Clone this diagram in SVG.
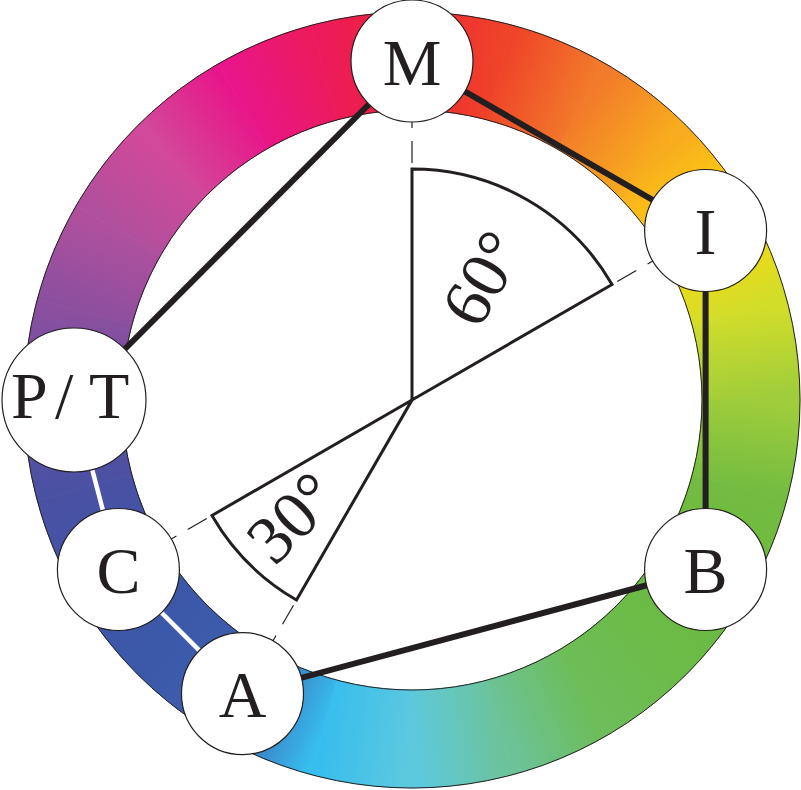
<svg xmlns="http://www.w3.org/2000/svg" width="801" height="790" viewBox="0 0 801 790">
<style>
.ring path{stroke-width:0.8}
.edge{fill:none;stroke:#231f20;stroke-width:1}
.guide{fill:none;stroke:#231f20;stroke-width:1.2;stroke-dasharray:22 13;stroke-dashoffset:8}
.wedge{fill:#fff;stroke:#231f20;stroke-width:3;stroke-linejoin:miter}
.thick{stroke:#231f20;stroke-width:6}
.white{stroke:#fff;stroke-width:4.5}
.node circle{fill:#fff;stroke:#231f20;stroke-width:1.2}
.lbl{font-family:"Liberation Serif","Times New Roman",serif;font-size:66px;fill:#231f20;text-anchor:middle}
.ang{font-family:"Liberation Serif","Times New Roman",serif;font-size:68px;fill:#231f20}
</style>
<defs>
<linearGradient id="g0" gradientUnits="userSpaceOnUse" x1="751" y1="400" x2="739.45" y2="312.26"><stop offset="0" stop-color="#9fcd3b"/><stop offset="1" stop-color="#d2dd2a"/></linearGradient>
<linearGradient id="g1" gradientUnits="userSpaceOnUse" x1="739.45" y1="312.26" x2="705.58" y2="230.5"><stop offset="0" stop-color="#d2dd2a"/><stop offset="1" stop-color="#fed80d"/></linearGradient>
<linearGradient id="g2" gradientUnits="userSpaceOnUse" x1="705.58" y1="230.5" x2="651.71" y2="160.29"><stop offset="0" stop-color="#fed80d"/><stop offset="1" stop-color="#f8ac1e"/></linearGradient>
<linearGradient id="g3" gradientUnits="userSpaceOnUse" x1="651.71" y1="160.29" x2="581.5" y2="106.42"><stop offset="0" stop-color="#f8ac1e"/><stop offset="1" stop-color="#f27a2a"/></linearGradient>
<linearGradient id="g4" gradientUnits="userSpaceOnUse" x1="581.5" y1="106.42" x2="499.74" y2="72.55"><stop offset="0" stop-color="#f27a2a"/><stop offset="1" stop-color="#ef4429"/></linearGradient>
<linearGradient id="g5" gradientUnits="userSpaceOnUse" x1="499.74" y1="72.55" x2="412" y2="61"><stop offset="0" stop-color="#ef4429"/><stop offset="1" stop-color="#ee2535"/></linearGradient>
<linearGradient id="g6" gradientUnits="userSpaceOnUse" x1="412" y1="61" x2="324.26" y2="72.55"><stop offset="0" stop-color="#ee2535"/><stop offset="1" stop-color="#ec1a5c"/></linearGradient>
<linearGradient id="g7" gradientUnits="userSpaceOnUse" x1="324.26" y1="72.55" x2="242.5" y2="106.42"><stop offset="0" stop-color="#ec1a5c"/><stop offset="1" stop-color="#e8168a"/></linearGradient>
<linearGradient id="g8" gradientUnits="userSpaceOnUse" x1="242.5" y1="106.42" x2="172.29" y2="160.29"><stop offset="0" stop-color="#e8168a"/><stop offset="1" stop-color="#d2489a"/></linearGradient>
<linearGradient id="g9" gradientUnits="userSpaceOnUse" x1="172.29" y1="160.29" x2="118.42" y2="230.5"><stop offset="0" stop-color="#d2489a"/><stop offset="1" stop-color="#b0509d"/></linearGradient>
<linearGradient id="g10" gradientUnits="userSpaceOnUse" x1="118.42" y1="230.5" x2="84.55" y2="312.26"><stop offset="0" stop-color="#b0509d"/><stop offset="1" stop-color="#8c4f9f"/></linearGradient>
<linearGradient id="g11" gradientUnits="userSpaceOnUse" x1="84.55" y1="312.26" x2="73" y2="400"><stop offset="0" stop-color="#8c4f9f"/><stop offset="1" stop-color="#654fa0"/></linearGradient>
<linearGradient id="g12" gradientUnits="userSpaceOnUse" x1="73" y1="400" x2="84.55" y2="487.74"><stop offset="0" stop-color="#654fa0"/><stop offset="1" stop-color="#4a51a3"/></linearGradient>
<linearGradient id="g13" gradientUnits="userSpaceOnUse" x1="84.55" y1="487.74" x2="118.42" y2="569.5"><stop offset="0" stop-color="#4a51a3"/><stop offset="1" stop-color="#3f55a6"/></linearGradient>
<linearGradient id="g14" gradientUnits="userSpaceOnUse" x1="118.42" y1="569.5" x2="172.29" y2="639.71"><stop offset="0" stop-color="#3f55a6"/><stop offset="1" stop-color="#3c59a9"/></linearGradient>
<linearGradient id="g15" gradientUnits="userSpaceOnUse" x1="172.29" y1="639.71" x2="242.5" y2="693.58"><stop offset="0" stop-color="#3c59a9"/><stop offset="1" stop-color="#3d5fae"/></linearGradient>
<linearGradient id="g16" gradientUnits="userSpaceOnUse" x1="242.5" y1="693.58" x2="324.26" y2="727.45"><stop offset="0" stop-color="#3d5fae"/><stop offset="1" stop-color="#37bdee"/></linearGradient>
<linearGradient id="g17" gradientUnits="userSpaceOnUse" x1="324.26" y1="727.45" x2="412" y2="739"><stop offset="0" stop-color="#37bdee"/><stop offset="1" stop-color="#5dc9df"/></linearGradient>
<linearGradient id="g18" gradientUnits="userSpaceOnUse" x1="412" y1="739" x2="499.74" y2="727.45"><stop offset="0" stop-color="#5dc9df"/><stop offset="1" stop-color="#6cc39a"/></linearGradient>
<linearGradient id="g19" gradientUnits="userSpaceOnUse" x1="499.74" y1="727.45" x2="581.5" y2="693.58"><stop offset="0" stop-color="#6cc39a"/><stop offset="1" stop-color="#6dbd5a"/></linearGradient>
<linearGradient id="g20" gradientUnits="userSpaceOnUse" x1="581.5" y1="693.58" x2="651.71" y2="639.71"><stop offset="0" stop-color="#6dbd5a"/><stop offset="1" stop-color="#6cbb48"/></linearGradient>
<linearGradient id="g21" gradientUnits="userSpaceOnUse" x1="651.71" y1="639.71" x2="705.58" y2="569.5"><stop offset="0" stop-color="#6cbb48"/><stop offset="1" stop-color="#6bb93f"/></linearGradient>
<linearGradient id="g22" gradientUnits="userSpaceOnUse" x1="705.58" y1="569.5" x2="739.45" y2="487.74"><stop offset="0" stop-color="#6bb93f"/><stop offset="1" stop-color="#74bc41"/></linearGradient>
<linearGradient id="g23" gradientUnits="userSpaceOnUse" x1="739.45" y1="487.74" x2="751" y2="400"><stop offset="0" stop-color="#74bc41"/><stop offset="1" stop-color="#9fcd3b"/></linearGradient>
</defs>
<g id="ring" class="ring">
<path fill="url(#g0)" stroke="url(#g0)" d="M800,400 A388,388 0 0 0 786.77,299.58 L692.12,324.94 A290,290 0 0 1 702,400 Z"/>
<path fill="url(#g1)" stroke="url(#g1)" d="M786.77,299.58 A388,388 0 0 0 748.02,206 L663.15,255 A290,290 0 0 1 692.12,324.94 Z"/>
<path fill="url(#g2)" stroke="url(#g2)" d="M748.02,206 A388,388 0 0 0 686.36,125.64 L617.06,194.94 A290,290 0 0 1 663.15,255 Z"/>
<path fill="url(#g3)" stroke="url(#g3)" d="M686.36,125.64 A388,388 0 0 0 606,63.98 L557,148.85 A290,290 0 0 1 617.06,194.94 Z"/>
<path fill="url(#g4)" stroke="url(#g4)" d="M606,63.98 A388,388 0 0 0 512.42,25.23 L487.06,119.88 A290,290 0 0 1 557,148.85 Z"/>
<path fill="url(#g5)" stroke="url(#g5)" d="M512.42,25.23 A388,388 0 0 0 412,12 L412,110 A290,290 0 0 1 487.06,119.88 Z"/>
<path fill="url(#g6)" stroke="url(#g6)" d="M412,12 A388,388 0 0 0 311.58,25.23 L336.94,119.88 A290,290 0 0 1 412,110 Z"/>
<path fill="url(#g7)" stroke="url(#g7)" d="M311.58,25.23 A388,388 0 0 0 218,63.98 L267,148.85 A290,290 0 0 1 336.94,119.88 Z"/>
<path fill="url(#g8)" stroke="url(#g8)" d="M218,63.98 A388,388 0 0 0 137.64,125.64 L206.94,194.94 A290,290 0 0 1 267,148.85 Z"/>
<path fill="url(#g9)" stroke="url(#g9)" d="M137.64,125.64 A388,388 0 0 0 75.98,206 L160.85,255 A290,290 0 0 1 206.94,194.94 Z"/>
<path fill="url(#g10)" stroke="url(#g10)" d="M75.98,206 A388,388 0 0 0 37.23,299.58 L131.88,324.94 A290,290 0 0 1 160.85,255 Z"/>
<path fill="url(#g11)" stroke="url(#g11)" d="M37.23,299.58 A388,388 0 0 0 24,400 L122,400 A290,290 0 0 1 131.88,324.94 Z"/>
<path fill="url(#g12)" stroke="url(#g12)" d="M24,400 A388,388 0 0 0 37.23,500.42 L131.88,475.06 A290,290 0 0 1 122,400 Z"/>
<path fill="url(#g13)" stroke="url(#g13)" d="M37.23,500.42 A388,388 0 0 0 75.98,594 L160.85,545 A290,290 0 0 1 131.88,475.06 Z"/>
<path fill="url(#g14)" stroke="url(#g14)" d="M75.98,594 A388,388 0 0 0 137.64,674.36 L206.94,605.06 A290,290 0 0 1 160.85,545 Z"/>
<path fill="url(#g15)" stroke="url(#g15)" d="M137.64,674.36 A388,388 0 0 0 218,736.02 L267,651.15 A290,290 0 0 1 206.94,605.06 Z"/>
<path fill="url(#g16)" stroke="url(#g16)" d="M218,736.02 A388,388 0 0 0 311.58,774.77 L336.94,680.12 A290,290 0 0 1 267,651.15 Z"/>
<path fill="url(#g17)" stroke="url(#g17)" d="M311.58,774.77 A388,388 0 0 0 412,788 L412,690 A290,290 0 0 1 336.94,680.12 Z"/>
<path fill="url(#g18)" stroke="url(#g18)" d="M412,788 A388,388 0 0 0 512.42,774.77 L487.06,680.12 A290,290 0 0 1 412,690 Z"/>
<path fill="url(#g19)" stroke="url(#g19)" d="M512.42,774.77 A388,388 0 0 0 606,736.02 L557,651.15 A290,290 0 0 1 487.06,680.12 Z"/>
<path fill="url(#g20)" stroke="url(#g20)" d="M606,736.02 A388,388 0 0 0 686.36,674.36 L617.06,605.06 A290,290 0 0 1 557,651.15 Z"/>
<path fill="url(#g21)" stroke="url(#g21)" d="M686.36,674.36 A388,388 0 0 0 748.02,594 L663.15,545 A290,290 0 0 1 617.06,605.06 Z"/>
<path fill="url(#g22)" stroke="url(#g22)" d="M748.02,594 A388,388 0 0 0 786.77,500.42 L692.12,475.06 A290,290 0 0 1 663.15,545 Z"/>
<path fill="url(#g23)" stroke="url(#g23)" d="M786.77,500.42 A388,388 0 0 0 800,400 L702,400 A290,290 0 0 1 692.12,475.06 Z"/>
<circle class="edge" cx="412" cy="400" r="388"/>
<circle class="edge" cx="412" cy="400" r="290"/>
</g>
<g id="guides">
<line class="guide" x1="412" y1="400" x2="412" y2="61"/>
<line class="guide" x1="412" y1="400" x2="705.6" y2="230.5"/>
<line class="guide" x1="412" y1="400" x2="118.4" y2="569.5"/>
<line class="guide" x1="412" y1="400" x2="242.5" y2="693.6"/>
</g>
<g id="wedge60">
<path class="wedge" d="M412,400 L412,169 A231,231 0 0 1 612.05,284.5 Z"/>
<text class="ang" transform="translate(412,400) rotate(-60)" x="93" y="23">60°</text>
</g>
<g id="wedge30">
<path class="wedge" d="M412,400 L211.95,515.5 A231,231 0 0 0 296.5,600.05 Z"/>
<text class="ang" transform="translate(412,400) rotate(-45)" x="-168" y="21" text-anchor="middle" transform-origin="0 0"><tspan>30°</tspan></text>
</g>
<g id="connectors">
<line class="thick" x1="412" y1="61" x2="74" y2="400"/>
<line class="thick" x1="412" y1="61" x2="705.6" y2="230.5"/>
<line class="thick" x1="705.6" y1="230.5" x2="705.6" y2="569.5"/>
<line class="thick" x1="705.6" y1="569.5" x2="242.5" y2="693.6"/>
<line class="white" x1="74" y1="400" x2="118.4" y2="569.5"/>
<line class="white" x1="118.4" y1="569.5" x2="242.5" y2="693.6"/>
</g>
<g id="node-M" class="node"><circle cx="412" cy="61" r="61"/><text class="lbl" x="412" y="84.5">M</text></g>
<g id="node-I" class="node"><circle cx="705.6" cy="230.5" r="61"/><text class="lbl" x="705.6" y="254">I</text></g>
<g id="node-B" class="node"><circle cx="705.6" cy="569.5" r="61"/><text class="lbl" x="705.6" y="593">B</text></g>
<g id="node-A" class="node"><circle cx="242.5" cy="693.6" r="61"/><text class="lbl" x="242.5" y="717">A</text></g>
<g id="node-C" class="node"><circle cx="118.4" cy="569.5" r="61"/><text class="lbl" x="118.4" y="593">C</text></g>
<g id="node-PT" class="node"><circle cx="74" cy="400" r="72"/><text class="lbl" y="418" text-anchor="start" style="text-anchor:start"><tspan x="11">P</tspan><tspan x="55">/</tspan><tspan x="89">T</tspan></text></g>
</svg>
